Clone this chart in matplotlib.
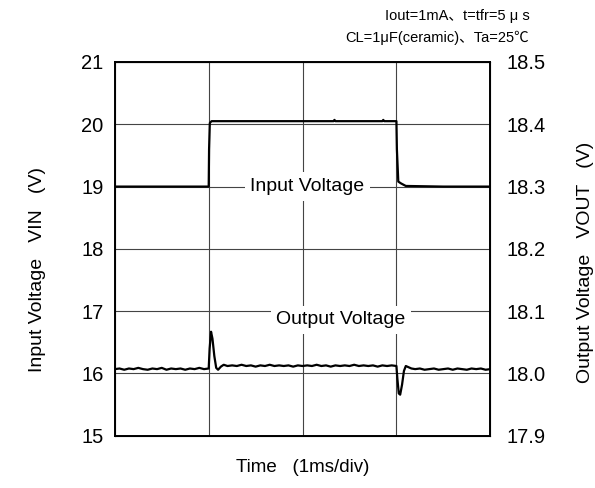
import matplotlib
matplotlib.use("Agg")
import matplotlib.pyplot as plt

plt.rcParams['font.family'] = ['Liberation Sans', 'Noto Sans CJK JP', 'DejaVu Sans']

# input voltage trace (ms, V) - left axis
t_in = [0.0, 0.5, 1.0, 1.004, 1.012, 1.03, 1.5, 2.0, 2.33, 2.34, 2.35, 2.5, 2.85, 2.86, 2.87, 3.0,
        3.005, 3.02, 3.05, 3.1, 3.5, 4.0]
v_in = [19.0, 19.0, 19.0, 19.6, 20.02, 20.05, 20.05, 20.05, 20.05, 20.07, 20.05, 20.05, 20.05, 20.07, 20.05, 20.05,
        19.6, 19.08, 19.05, 19.01, 19.0, 19.0]

# output voltage trace (ms, V) - right axis
t_out = [0.0, 0.05, 0.1, 0.15, 0.2, 0.25, 0.3, 0.35, 0.4, 0.45, 0.5, 0.55, 0.6, 0.65, 0.7, 0.75, 0.8, 0.85, 0.9, 0.95,
         1.0, 1.01, 1.025, 1.04, 1.06, 1.08, 1.1, 1.13, 1.16, 1.2, 1.25, 1.3, 1.35, 1.4, 1.45, 1.5, 1.55, 1.6, 1.65,
         1.7, 1.75, 1.8, 1.85, 1.9, 1.95, 2.0, 2.05, 2.1, 2.15, 2.2, 2.25, 2.3, 2.35, 2.4, 2.45, 2.5, 2.55, 2.6, 2.65,
         2.7, 2.75, 2.8, 2.85, 2.9, 2.95, 3.0, 3.01, 3.025, 3.04, 3.06, 3.08, 3.1, 3.13, 3.16, 3.2, 3.25, 3.3, 3.35,
         3.4, 3.45, 3.5, 3.55, 3.6, 3.65, 3.7, 3.75, 3.8, 3.85, 3.9, 3.95, 4.0]
v_out = [18.007, 18.008, 18.006, 18.008, 18.007, 18.009, 18.007, 18.006, 18.008, 18.007, 18.009, 18.006, 18.008,
         18.007, 18.008, 18.006, 18.008, 18.007, 18.009, 18.007,
         18.008, 18.040, 18.067, 18.056, 18.028, 18.009, 18.006, 18.011, 18.014, 18.012, 18.013, 18.012, 18.014,
         18.012, 18.013, 18.011, 18.013, 18.012, 18.014, 18.012, 18.013, 18.012, 18.013, 18.011, 18.013, 18.012,
         18.013, 18.012, 18.014, 18.012, 18.013, 18.011, 18.013, 18.012, 18.013, 18.012, 18.014, 18.012, 18.013,
         18.012, 18.013, 18.011, 18.013, 18.012, 18.013, 18.012, 17.992, 17.968, 17.966, 17.982, 18.004, 18.012,
         18.010, 18.008, 18.007, 18.008, 18.006, 18.007, 18.008, 18.006, 18.007, 18.008, 18.006, 18.008, 18.007,
         18.006, 18.008, 18.007, 18.008, 18.006, 18.007]

left_ticks = [15, 16, 17, 18, 19, 20, 21]
right_ticks = [17.9, 18.0, 18.1, 18.2, 18.3, 18.4, 18.5]

fig = plt.figure(figsize=(5.95, 4.88), dpi=100)
ax = fig.add_axes([0.193, 0.107, 0.631, 0.766])
ax2 = ax.twinx()

ax.plot(t_in, v_in, color='black', lw=1.6)
ax2.plot(t_out, v_out, color='black', lw=1.6)

ax.set_xlim(0, 4)
ax.set_ylim(15, 21)
ax2.set_ylim(17.9, 18.5)
ax.set_xticks([1, 2, 3])
ax.set_xticklabels([])
ax.set_yticks(left_ticks)
ax2.set_yticks(right_ticks)
ax2.set_yticklabels(['%.1f' % v for v in right_ticks])
ax.tick_params(length=0, labelsize=14.5, pad=8)
ax2.tick_params(length=0, labelsize=14.5, pad=12)
ax.grid(True, color='#444444', lw=0.8)
ax.set_axisbelow(True)
for sp in ax2.spines.values():
    sp.set_linewidth(1.4)

# axis titles placed in figure pixels
fig.text(38 / 595, 1 - 270 / 488, 'Input Voltage   VIN   (V)', fontsize=14,
         rotation=90, ha='center', va='center')
fig.text(585 / 595, 1 - 262 / 488, 'Output Voltage   VOUT   (V)', fontsize=14,
         rotation=90, ha='center', va='center')
fig.text(0.5 * (115 + 490) / 595, 1 - 468 / 488, 'Time   (1ms/div)', fontsize=13.5,
         ha='center', va='center')

ax.text(2.05, 19.0, 'Input Voltage', ha='center', va='center', fontsize=14,
        bbox=dict(facecolor='white', edgecolor='none', pad=4), zorder=5)
ax.text(2.41, 16.86, 'Output Voltage', ha='center', va='center', fontsize=14,
        bbox=dict(facecolor='white', edgecolor='none', pad=4), zorder=5)

fig.text(0.891, 0.967, 'Iout=1mA、t=tfr=5 \u03bc s', ha='right', va='center', fontsize=10.5)
fig.text(0.889, 0.922, 'CL=1μF(ceramic)、Ta=25℃', ha='right', va='center', fontsize=10.5)

fig.savefig('out.png', dpi=100)
